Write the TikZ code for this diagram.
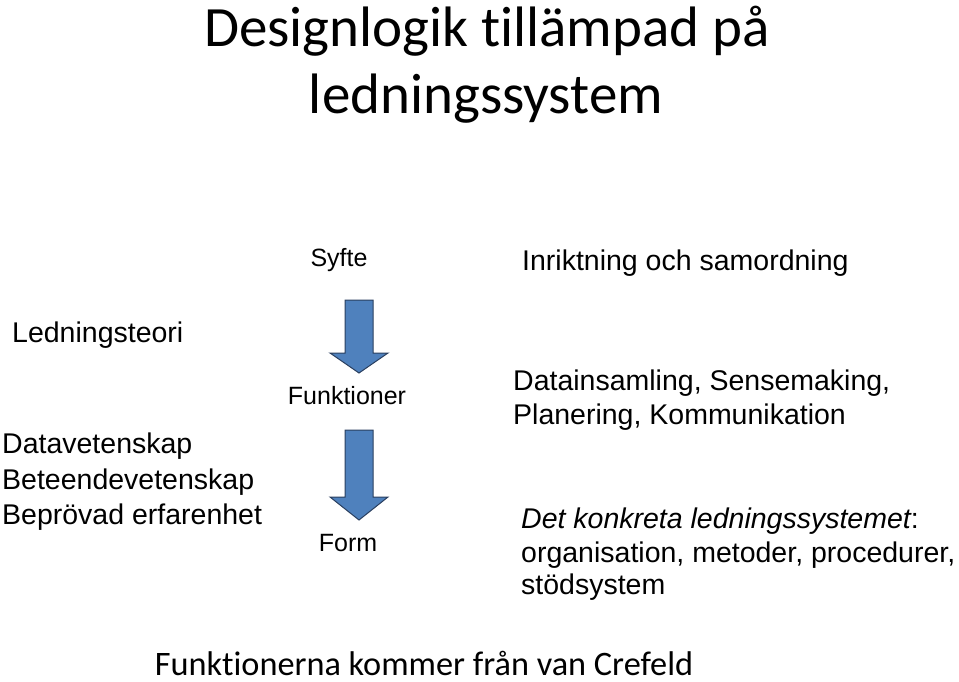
\documentclass[tikz,border=0pt]{standalone}
\usepackage{fontspec}
\setmainfont{Liberation Sans}
\newfontfamily\calibri[Ligatures={NoCommon,NoContextual}]{Carlito}
\definecolor{arrowfill}{HTML}{4F81BD}
\definecolor{arrowline}{HTML}{2A3F5F}
\begin{document}
\begin{tikzpicture}[x=1pt,y=-1pt,
  txt/.style={inner sep=0pt,anchor=base west,font=\fontsize{28.5}{34}\selectfont},
  midtxt/.style={inner sep=0pt,anchor=base,font=\fontsize{25}{30}\selectfont},
  ttl/.style={inner sep=0pt,anchor=base,font=\calibri\fontsize{57}{68}\selectfont},
  foot/.style={inner sep=0pt,anchor=base,font=\calibri\fontsize{34.3}{40}\selectfont},
  downarrow/.style={fill=arrowfill,draw=arrowline,line width=1pt,line join=miter}]
\useasboundingbox (0,0) rectangle (959,681);
% title
\node[ttl] (title1) at (487,46) {Designlogik tillämpad på};
\node[ttl] (title2) at (486,113) {ledningssystem};
% middle column
\node[midtxt] (syfte) at (339,266) {Syfte};
\node[midtxt] (funk) at (347,404) {Funktioner};
\node[midtxt] (form) at (348,551) {Form};
% arrows
\draw[downarrow] (345,300) -- (373,300) -- (373,353) -- (388,353) -- (359,373) -- (330,353) -- (345,353) -- cycle;
\draw[downarrow] (345,430) -- (373,430) -- (373,497) -- (388,497) -- (359,520) -- (330,497) -- (345,497) -- cycle;
% left column
\node[txt] (lt) at (12,342) {Ledningsteori};
\node[txt] (dv) at (2,453) {Datavetenskap};
\node[txt] (bv) at (2,489) {Beteendevetenskap};
\node[txt] (be) at (2,524) {Beprövad erfarenhet};
% right column
\node[txt] (ins) at (522,270) {Inriktning och samordning};
\node[txt] (di) at (513,390) {Datainsamling, Sensemaking,};
\node[txt] (pl) at (513,424) {Planering, Kommunikation};
\node[txt] (dk) at (521,528) {\itshape Det konkreta ledningssystemet\upshape:};
\node[txt] (or) at (521,562) {organisation, metoder, procedurer,};
\node[txt] (st) at (521,594) {stödsystem};
% footer
\node[foot] (foot) at (424,675) {Funktionerna kommer från van Crefeld};
\end{tikzpicture}
\end{document}
